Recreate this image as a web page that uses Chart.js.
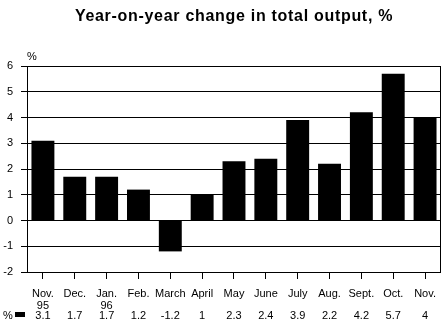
<!DOCTYPE html>
<html>
<head>
<meta charset="utf-8">
<script src="https://cdn.jsdelivr.net/npm/chart.js@4"></script>
<style>
  html, body { margin: 0; padding: 0; background: #fff; }
  #wrap { width: 445px; height: 324px; }
</style>
</head>
<body>
<div id="wrap"><canvas id="outputChart" width="445" height="324"></canvas></div>
<script>
// monthly labels (month, year on second line where it changes)
const months = [
  ['Nov.', '95'], 'Dec.', ['Jan.', '96'], 'Feb.', 'March', 'April',
  'May', 'June', 'July', 'Aug.', 'Sept.', 'Oct.', 'Nov.'
];
// year-on-year change, %
const changePct = [3.1, 1.7, 1.7, 1.2, -1.2, 1, 2.3, 2.4, 3.9, 2.2, 4.2, 5.7, 4];
const yTicks = [-2, -1, 0, 1, 2, 3, 4, 5, 6];

const FONT = "'Liberation Sans', Arial, sans-serif";

// title, unit label, right frame and the value row under the axis
const extras = {
  id: 'extras',
  afterDraw(chart) {
    const { ctx, chartArea: a, scales } = chart;
    ctx.save();
    ctx.fillStyle = '#000';
    ctx.strokeStyle = '#000';
    ctx.lineWidth = 1;

    ctx.font = 'bold 16px ' + FONT;
    ctx.letterSpacing = '0.7px';
    ctx.textAlign = 'center';
    ctx.textBaseline = 'middle';
    ctx.fillText('Year-on-year change in total output, %', 234, 17);
    ctx.letterSpacing = '0px';

    ctx.font = '11px ' + FONT;
    ctx.textAlign = 'left';
    ctx.fillText('%', 27, 57);

    // right frame
    ctx.beginPath();
    ctx.moveTo(Math.round(a.right) - 0.5, a.top);
    ctx.lineTo(Math.round(a.right) - 0.5, a.bottom);
    ctx.stroke();

    // data row
    const rowY = 316;
    ctx.textAlign = 'left';
    ctx.fillText('%', 3, rowY);
    ctx.fillRect(15, rowY - 4, 10, 5);
    ctx.textAlign = 'center';
    changePct.forEach((v, i) => {
      ctx.fillText(String(v), scales.x.getPixelForValue(i), rowY);
    });
    ctx.restore();
  }
};

new Chart(document.getElementById('outputChart'), {
  type: 'bar',
  data: {
    labels: months,
    datasets: [{
      data: changePct,
      backgroundColor: '#000',
      borderWidth: 0,
      barPercentage: 0.72,
      categoryPercentage: 1
    }]
  },
  options: {
    responsive: false,
    animation: false,
    devicePixelRatio: 1,
    layout: { padding: { top: 66, left: 0, right: 1, bottom: 0 } },
    plugins: { legend: { display: false }, tooltip: { enabled: false } },
    scales: {
      x: {
        offset: true,
        grid: { offset: false, drawOnChartArea: false, color: '#000', tickLength: 7 },
        border: { color: '#000' },
        ticks: {
          color: '#000',
          font: { family: FONT, size: 11, lineHeight: 1.1 },
          padding: 9,
          maxRotation: 0,
          autoSkip: false
        },
        afterFit(scale) { scale.height = 52; }
      },
      y: {
        min: -2,
        max: 6,
        afterBuildTicks(scale) { scale.ticks = yTicks.map(v => ({ value: v })); },
        grid: { color: '#000', tickLength: 6 },
        border: { color: '#000' },
        ticks: {
          color: '#000',
          font: { family: FONT, size: 11 },
          padding: 8
        },
        afterFit(scale) { scale.width = 27; }
      }
    }
  },
  plugins: [extras]
});
</script>
</body>
</html>
